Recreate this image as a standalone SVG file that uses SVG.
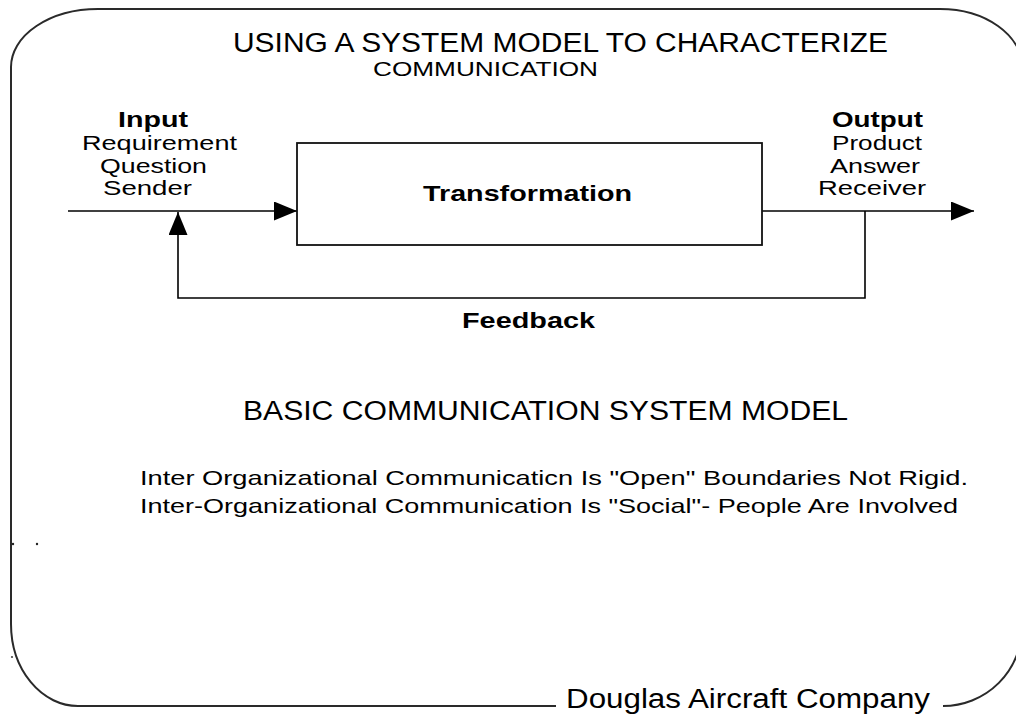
<svg xmlns="http://www.w3.org/2000/svg" width="1016" height="719" viewBox="0 0 1016 719">
  <style>
    text { font-family: "Liberation Sans", Arial, sans-serif; fill: #000; }
    .title { font-size: 27px; }
    .sub { font-size: 20px; }
    .lbl { font-size: 22px; font-weight: bold; }
    .item { font-size: 20px; }
    .note { font-size: 21px; }
    .sig { font-size: 27px; }
    .frame { fill: none; stroke: #2a2a2a; stroke-width: 2; }
    .wire { fill: none; stroke: #000; stroke-width: 1.6; }
    .box { fill: #fff; stroke: #111; stroke-width: 1.8; }
  </style>
  <defs>
    <marker id="arrow" markerUnits="userSpaceOnUse" viewBox="0 0 23 19" markerWidth="23" markerHeight="19" refX="23" refY="9.5" orient="auto">
      <polygon points="0,0 23,9.5 0,19" fill="#000"/>
    </marker>
  </defs>
  <rect width="1016" height="719" fill="#fff"/>

  <!-- rounded page frame, broken at the bottom for the company name -->
  <g id="frame">
    <path class="frame" d="M 556 706 L 78 706 A 67 82 0 0 1 11 624 L 11 67 A 87 58 0 0 1 98 9 L 940 9 A 82 58 0 0 1 1022 67 L 1022 627 A 79 79 0 0 1 943 706"/>
    <circle cx="37" cy="544" r="1.2" fill="#222"/>
    <circle cx="13" cy="544" r="1.2" fill="#222"/>
    <circle cx="12" cy="657" r="1.1" fill="#444"/>
    <text class="sig" x="566" y="708" textLength="364" lengthAdjust="spacingAndGlyphs">Douglas Aircraft Company</text>
  </g>

  <g id="heading">
    <text class="title" x="233" y="52" textLength="655" lengthAdjust="spacingAndGlyphs">USING A SYSTEM MODEL TO CHARACTERIZE</text>
    <text class="sub" x="373" y="76" textLength="225" lengthAdjust="spacingAndGlyphs">COMMUNICATION</text>
  </g>

  <g id="connectors">
    <path class="wire" d="M 68 211 L 297 211" marker-end="url(#arrow)"/>
    <path class="wire" d="M 762 211 L 974 211" marker-end="url(#arrow)"/>
    <path class="wire" d="M 865 211 L 865 298 L 178 298 L 178 212" marker-end="url(#arrow)"/>
  </g>

  <g id="input">
    <text class="lbl" x="118" y="127" textLength="70" lengthAdjust="spacingAndGlyphs">Input</text>
    <text class="item" x="82" y="150" textLength="155" lengthAdjust="spacingAndGlyphs">Requirement</text>
    <text class="item" x="100" y="173" textLength="107" lengthAdjust="spacingAndGlyphs">Question</text>
    <text class="item" x="103" y="195" textLength="89" lengthAdjust="spacingAndGlyphs">Sender</text>
  </g>

  <g id="transformation">
    <rect class="box" x="297" y="143" width="465" height="102"/>
    <text class="lbl" x="423" y="201" textLength="209" lengthAdjust="spacingAndGlyphs">Transformation</text>
  </g>

  <g id="output">
    <text class="lbl" x="832" y="127" textLength="91" lengthAdjust="spacingAndGlyphs">Output</text>
    <text class="item" x="832" y="150" textLength="90" lengthAdjust="spacingAndGlyphs">Product</text>
    <text class="item" x="830" y="173" textLength="90" lengthAdjust="spacingAndGlyphs">Answer</text>
    <text class="item" x="818" y="195" textLength="108" lengthAdjust="spacingAndGlyphs">Receiver</text>
  </g>

  <g id="feedback">
    <text class="lbl" x="462" y="328" textLength="133" lengthAdjust="spacingAndGlyphs">Feedback</text>
  </g>

  <g id="caption">
    <text class="title" x="243" y="420" textLength="605" lengthAdjust="spacingAndGlyphs">BASIC COMMUNICATION SYSTEM MODEL</text>
    <text class="note" x="140" y="485" textLength="828" lengthAdjust="spacingAndGlyphs">Inter Organizational Communicaticn Is "Open"   Boundaries Not Rigid.</text>
    <text class="note" x="140" y="513" textLength="818" lengthAdjust="spacingAndGlyphs">Inter-Organizational Communication Is "Social"- People Are Involved</text>
  </g>
</svg>
